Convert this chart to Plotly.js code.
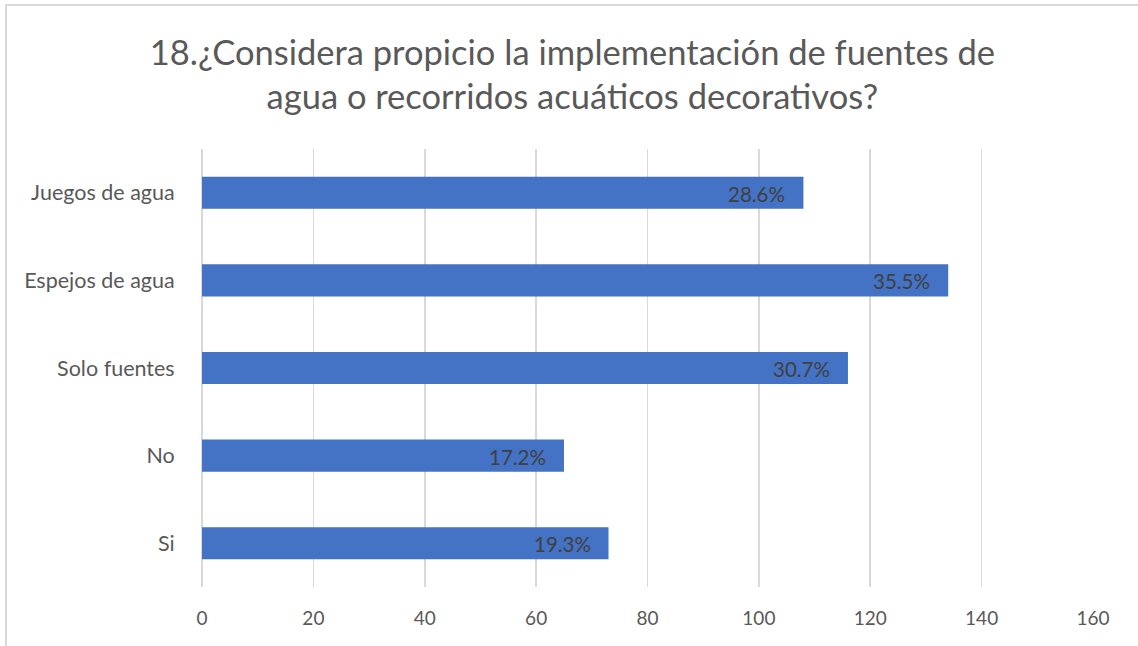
<!DOCTYPE html>
<html>
<head>
<meta charset="utf-8">
<script src="https://cdn.plot.ly/plotly-3.0.1.min.js"></script>
<style>
html,body{margin:0;padding:0;background:#fff;}
#frame{position:absolute;left:5px;top:4px;width:1140px;height:660px;border-top:2px solid #d9d9d9;border-left:2px solid #d9d9d9;box-sizing:border-box;pointer-events:none;z-index:5;}
#chart{position:absolute;left:0;top:0;width:1138px;height:646px;}
</style>
</head>
<body>
<div id="chart"></div>
<div id="frame"></div>
<script>
const categories = ["Si", "No", "Solo fuentes", "Espejos de agua", "Juegos de agua"];
const counts = [73, 65, 116, 134, 108];
const percentLabels = ["19.3%", "17.2%", "30.7%", "35.5%", "28.6%"];
const xTicks = [0, 20, 40, 60, 80, 100, 120, 140, 160];

const FONT = "Lato, 'Open Sans', sans-serif";

const trace = {
  type: "bar",
  orientation: "h",
  y: categories,
  x: counts,
  marker: {color: "#4472C4"},
  width: 0.366,
  hoverinfo: "x+y"
};

const annotations = categories.map((c, i) => ({
  x: counts[i],
  y: c,
  xref: "x",
  yref: "y",
  text: percentLabels[i],
  showarrow: false,
  xanchor: "right",
  yanchor: "middle",
  xshift: -16,
  yshift: -1,
  font: {family: FONT, size: 20.5, color: "#404040"}
}));

const layout = {
  width: 1138,
  height: 646,
  margin: {l: 202, r: 45, t: 149, b: 59},
  paper_bgcolor: "#ffffff",
  plot_bgcolor: "#ffffff",
  showlegend: false,
  annotations: annotations,
  title: {
    text: "18.¿Considera propicio la implementación de fuentes de<br>agua o recorridos acuáticos decorativos?",
    font: {family: FONT, size: 34.5, color: "#595959"},
    x: 0.503,
    xanchor: "center",
    y: 0.9,
    yanchor: "middle"
  },
  xaxis: {
    range: [0, 160],
    tickvals: xTicks,
    ticktext: xTicks.map(String),
    showgrid: true,
    gridcolor: "#d9d9d9",
    gridwidth: 1.7,
    zeroline: true,
    zerolinecolor: "#d9d9d9",
    zerolinewidth: 1.7,
    showline: false,
    ticks: "outside",
    ticklen: 14,
    tickcolor: "rgba(0,0,0,0)",
    tickfont: {family: FONT, size: 19, color: "#595959"},
    fixedrange: true
  },
  yaxis: {
    type: "category",
    categoryorder: "array",
    categoryarray: categories,
    showgrid: false,
    zeroline: false,
    showline: false,
    ticks: "outside",
    ticklen: 22,
    tickcolor: "rgba(0,0,0,0)",
    tickfont: {family: FONT, size: 21.5, color: "#595959"},
    fixedrange: true
  }
};

Plotly.newPlot("chart", [trace], layout, {displayModeBar: false, staticPlot: true});
</script>
</body>
</html>
